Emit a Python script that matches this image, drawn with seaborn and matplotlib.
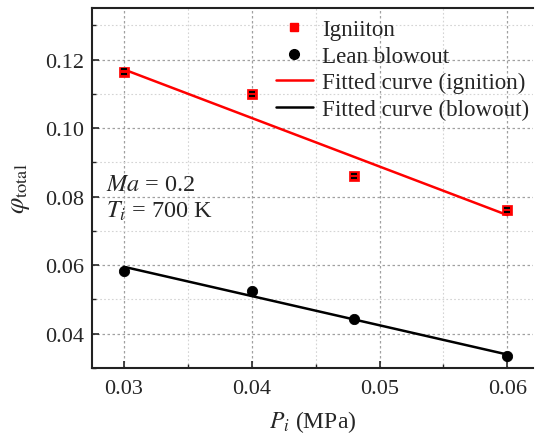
import numpy as np
import pandas as pd
import seaborn as sns
import matplotlib.pyplot as plt
from matplotlib.lines import Line2D
from matplotlib.ticker import MultipleLocator

# data
pressure = [0.03, 0.04, 0.048, 0.06]
phi_ignition = [0.1165, 0.1100, 0.0860, 0.0761]
phi_ignition_err = [0.0006, 0.0006, 0.0006, 0.0006]
phi_blowout = [0.0582, 0.0525, 0.0444, 0.0336]

# fitted lines (end points)
fit_x = [0.03, 0.06]
fit_ignition = [0.1171, 0.0746]
fit_blowout = [0.0595, 0.0339]

sns.set_style("ticks")
plt.rcParams['font.family'] = ['Liberation Serif', 'DejaVu Serif']
plt.rcParams['mathtext.fontset'] = 'stix'

df = pd.DataFrame({'P': pressure, 'ign': phi_ignition, 'blow': phi_blowout})
fit_df = pd.DataFrame({'P': fit_x, 'ign': fit_ignition, 'blow': fit_blowout})

fig = plt.figure(figsize=(5.35, 4.35), dpi=100)
ax = fig.add_axes([0.172, 0.152, 0.824, 0.827])

sns.lineplot(data=fit_df, x='P', y='ign', color='red', lw=1.8, ax=ax, zorder=3)
sns.lineplot(data=fit_df, x='P', y='blow', color='black', lw=1.8, ax=ax, zorder=3)
sns.scatterplot(data=df, x='P', y='ign', marker='s', color='red', s=45,
                edgecolor='red', linewidth=0.5, ax=ax, zorder=4)
ax.errorbar(pressure, phi_ignition, yerr=phi_ignition_err, fmt='none',
            ecolor='black', elinewidth=0, capsize=2.3, capthick=1.5, zorder=5)
sns.scatterplot(data=df, x='P', y='blow', marker='o', color='black', s=55,
                edgecolor='black', ax=ax, zorder=4)

ax.set_xlim(0.0275, 0.062)
ax.set_ylim(0.03, 0.135)
ax.xaxis.set_minor_locator(MultipleLocator(0.005))
ax.yaxis.set_minor_locator(MultipleLocator(0.01))
ax.set_xticks([0.03, 0.04, 0.05, 0.06])
ax.set_yticks([0.04, 0.06, 0.08, 0.10, 0.12])
ax.set_xticklabels(['0.03', '0.04', '0.05', '0.06'])
ax.set_yticklabels(['0.04', '0.06', '0.08', '0.10', '0.12'])

ax.grid(which='major', color='#a0a0a0', linestyle=(0, (2, 2)), lw=0.9, zorder=0)
ax.grid(which='minor', color='#d4d4d4', linestyle=(0, (1.5, 2)), lw=0.8, zorder=0)
ax.tick_params(which='major', direction='in', length=5, width=1.2, labelsize=16)
ax.tick_params(axis='x', which='major', pad=8)
ax.tick_params(axis='y', which='major', pad=6)
ax.tick_params(which='minor', direction='in', length=3, width=1.0)
ax.spines['right'].set_visible(False)
for sp in ax.spines.values():
    sp.set_linewidth(1.5)
    sp.set_color('#222222')

ax.set_xlabel(r'$P_i$ (MPa)', fontsize=17, labelpad=7)
ax.set_ylabel(r'$\varphi_{\mathrm{total}}$', fontsize=19, labelpad=9)

ax.text(0.0286, 0.0820, r'$Ma$ = 0.2', fontsize=17.5, va='baseline')
ax.text(0.0286, 0.0740, r'$T_i$ = 700 K', fontsize=17.5, va='baseline')

handles = [
    Line2D([], [], marker='s', color='red', ls='none', markersize=6),
    Line2D([], [], marker='o', color='black', ls='none', markersize=7),
    Line2D([], [], color='red', lw=1.8),
    Line2D([], [], color='black', lw=1.8),
]
labels = ['Igniiton', 'Lean blowout', 'Fitted curve (ignition)', 'Fitted curve (blowout)']
ax.legend(handles, labels, loc='upper right', bbox_to_anchor=(1.012, 0.996), frameon=False,
          fontsize=16.6, labelspacing=0.24, handlelength=1.6, handletextpad=0.4,
          borderaxespad=0.2, borderpad=0.2)

fig.savefig('out.png', dpi=100)
